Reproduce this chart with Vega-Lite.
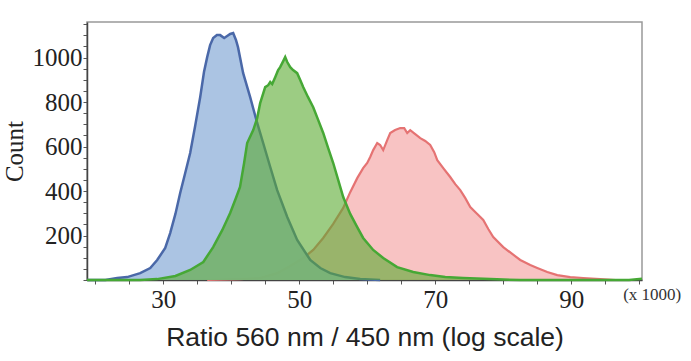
{
  "$schema": "https://vega.github.io/schema/vega-lite/v6.json",
  "width": 555,
  "height": 258,
  "autosize": "none",
  "padding": {"left": 87, "top": 22, "right": 49, "bottom": 81},
  "background": "white",
  "config": {
    "view": {"stroke": "#999999", "strokeWidth": 1.5},
    "axis": {"grid": false}
  },
  "datasets": {
    "blue": [
      {"ratio": 18.8, "count": 0}, {"ratio": 21.5, "count": 0}, {"ratio": 23.24, "count": 9}, {"ratio": 24.7, "count": 13},
      {"ratio": 26.62, "count": 31}, {"ratio": 28.1, "count": 54}, {"ratio": 29.12, "count": 90}, {"ratio": 30.3, "count": 144},
      {"ratio": 31.03, "count": 211}, {"ratio": 31.8, "count": 297}, {"ratio": 32.5, "count": 391}, {"ratio": 33.24, "count": 481},
      {"ratio": 33.97, "count": 571}, {"ratio": 34.7, "count": 692}, {"ratio": 35.44, "count": 822}, {"ratio": 36.0, "count": 935},
      {"ratio": 36.47, "count": 1002}, {"ratio": 36.9, "count": 1056}, {"ratio": 37.35, "count": 1088}, {"ratio": 37.9, "count": 1101},
      {"ratio": 38.38, "count": 1101}, {"ratio": 38.97, "count": 1088}, {"ratio": 39.41, "count": 1097}, {"ratio": 39.85, "count": 1106},
      {"ratio": 40.29, "count": 1110}, {"ratio": 40.7, "count": 1079}, {"ratio": 41.0, "count": 1047}, {"ratio": 41.76, "count": 930},
      {"ratio": 42.79, "count": 822}, {"ratio": 43.82, "count": 706}, {"ratio": 44.7, "count": 616}, {"ratio": 45.74, "count": 508},
      {"ratio": 46.76, "count": 404}, {"ratio": 48.24, "count": 283}, {"ratio": 49.7, "count": 180}, {"ratio": 51.62, "count": 90},
      {"ratio": 53.1, "count": 54}, {"ratio": 54.56, "count": 31}, {"ratio": 56.76, "count": 13}, {"ratio": 58.97, "count": 4},
      {"ratio": 61.9, "count": 0}
    ],
    "green": [
      {"ratio": 18.8, "count": 0}, {"ratio": 26.6, "count": 0}, {"ratio": 29.1, "count": 4}, {"ratio": 31.8, "count": 18},
      {"ratio": 33.97, "count": 45}, {"ratio": 35.9, "count": 81}, {"ratio": 37.35, "count": 148}, {"ratio": 38.7, "count": 225},
      {"ratio": 39.85, "count": 301}, {"ratio": 40.7, "count": 369}, {"ratio": 41.3, "count": 418}, {"ratio": 41.9, "count": 526},
      {"ratio": 42.35, "count": 616}, {"ratio": 43.24, "count": 674}, {"ratio": 43.82, "count": 728}, {"ratio": 44.26, "count": 795},
      {"ratio": 45.0, "count": 867}, {"ratio": 45.44, "count": 876}, {"ratio": 45.74, "count": 890}, {"ratio": 46.03, "count": 881},
      {"ratio": 46.47, "count": 912}, {"ratio": 46.9, "count": 944}, {"ratio": 47.2, "count": 957}, {"ratio": 47.65, "count": 984},
      {"ratio": 47.94, "count": 1002}, {"ratio": 48.24, "count": 980}, {"ratio": 48.68, "count": 957}, {"ratio": 49.1, "count": 944},
      {"ratio": 49.7, "count": 930}, {"ratio": 50.15, "count": 899}, {"ratio": 50.6, "count": 867}, {"ratio": 51.3, "count": 822},
      {"ratio": 52.06, "count": 777}, {"ratio": 52.8, "count": 719}, {"ratio": 53.53, "count": 661}, {"ratio": 54.26, "count": 593},
      {"ratio": 55.0, "count": 526}, {"ratio": 55.74, "count": 449}, {"ratio": 56.47, "count": 373}, {"ratio": 57.5, "count": 297},
      {"ratio": 58.53, "count": 238}, {"ratio": 59.4, "count": 189}, {"ratio": 60.88, "count": 135}, {"ratio": 62.35, "count": 99},
      {"ratio": 64.4, "count": 58}, {"ratio": 66.76, "count": 36}, {"ratio": 69.26, "count": 22}, {"ratio": 71.47, "count": 13},
      {"ratio": 74.1, "count": 9}, {"ratio": 78.1, "count": 4}, {"ratio": 82.5, "count": 0}, {"ratio": 98.5, "count": 0},
      {"ratio": 100.4, "count": 6}
    ],
    "red": [
      {"ratio": 36.47, "count": 0}, {"ratio": 41.3, "count": 4}, {"ratio": 44.26, "count": 9}, {"ratio": 46.76, "count": 31},
      {"ratio": 48.68, "count": 63}, {"ratio": 50.6, "count": 99}, {"ratio": 52.06, "count": 135}, {"ratio": 53.53, "count": 189},
      {"ratio": 55.0, "count": 252}, {"ratio": 56.47, "count": 324}, {"ratio": 57.5, "count": 395}, {"ratio": 58.53, "count": 458},
      {"ratio": 59.4, "count": 503}, {"ratio": 60.0, "count": 526}, {"ratio": 60.44, "count": 553}, {"ratio": 60.88, "count": 584},
      {"ratio": 61.47, "count": 616}, {"ratio": 61.9, "count": 607}, {"ratio": 62.35, "count": 584}, {"ratio": 62.94, "count": 629},
      {"ratio": 63.38, "count": 661}, {"ratio": 64.1, "count": 674}, {"ratio": 64.85, "count": 683}, {"ratio": 65.44, "count": 683},
      {"ratio": 65.88, "count": 661}, {"ratio": 66.32, "count": 674}, {"ratio": 67.06, "count": 656}, {"ratio": 67.8, "count": 638},
      {"ratio": 68.53, "count": 625}, {"ratio": 69.26, "count": 607}, {"ratio": 69.85, "count": 575}, {"ratio": 70.3, "count": 539},
      {"ratio": 71.18, "count": 503}, {"ratio": 72.2, "count": 463}, {"ratio": 72.94, "count": 431}, {"ratio": 73.68, "count": 404},
      {"ratio": 74.4, "count": 369}, {"ratio": 75.15, "count": 328}, {"ratio": 76.18, "count": 297}, {"ratio": 77.06, "count": 270},
      {"ratio": 77.8, "count": 229}, {"ratio": 78.53, "count": 193}, {"ratio": 80.0, "count": 148}, {"ratio": 81.32, "count": 117},
      {"ratio": 82.5, "count": 90}, {"ratio": 83.97, "count": 67}, {"ratio": 85.0, "count": 54}, {"ratio": 86.47, "count": 36},
      {"ratio": 87.94, "count": 22}, {"ratio": 89.85, "count": 13}, {"ratio": 91.76, "count": 9}, {"ratio": 94.26, "count": 4},
      {"ratio": 96.5, "count": 0}
    ],
    "note": [{"label": "(x 1000)", "ratio": 101.9, "count": -67}]
  },
  "encoding": {
    "x": {
      "field": "ratio", "type": "quantitative",
      "scale": {"domain": [18.8, 100.4], "nice": false, "zero": false},
      "axis": {
        "title": "Ratio 560 nm / 450 nm (log scale)",
        "values": [20, 25, 30, 35, 40, 45, 50, 55, 60, 65, 70, 75, 80, 85, 90, 95, 100],
        "labelExpr": "datum.value == 30 || datum.value == 50 || datum.value == 70 || datum.value == 90 ? datum.label : ''",
        "labelFont": "Liberation Serif", "labelFontSize": 25, "labelColor": "#222222", "labelPadding": 3,
        "labelOverlap": false,
        "tickSize": 4, "tickColor": "#555555", "domainColor": "#444444", "domainWidth": 1.5,
        "titleFont": "Liberation Sans", "titleFontSize": 26.5, "titleFontWeight": "normal", "titleColor": "#222222",
        "titlePadding": 12
      }
    },
    "y": {
      "field": "count", "type": "quantitative",
      "scale": {"domain": [0, 1160], "nice": false},
      "axis": {
        "title": "Count",
        "values": [0, 50, 100, 150, 200, 250, 300, 350, 400, 450, 500, 550, 600, 650, 700, 750, 800, 850, 900, 950, 1000, 1050, 1100, 1150],
        "labelExpr": "datum.value > 0 && datum.value % 200 == 0 ? datum.label : ''",
        "format": "d",
        "labelFont": "Liberation Serif", "labelFontSize": 25, "labelColor": "#222222", "labelPadding": 1,
        "labelOverlap": false,
        "tickSize": 4, "tickColor": "#555555", "domainColor": "#444444", "domainWidth": 1.5,
        "titleFont": "Liberation Serif", "titleFontSize": 25, "titleFontWeight": "normal", "titleColor": "#222222",
        "titlePadding": 5
      }
    }
  },
  "layer": [
    {"data": {"name": "red"}, "mark": {"type": "area", "fill": "#f7b9b9", "fillOpacity": 0.85}},
    {"data": {"name": "red"}, "mark": {"type": "line", "stroke": "#e57373", "strokeWidth": 2.2}},
    {"data": {"name": "blue"}, "mark": {"type": "area", "fill": "#a6c1e2", "fillOpacity": 0.95}},
    {"data": {"name": "blue"}, "mark": {"type": "line", "stroke": "#4a68a8", "strokeWidth": 2.5}},
    {"data": {"name": "green"}, "mark": {"type": "area", "fill": "#5aaa30", "fillOpacity": 0.6}},
    {"data": {"name": "green"}, "mark": {"type": "line", "stroke": "#46a835", "strokeWidth": 2.5}},
    {
      "data": {"name": "note"},
      "mark": {"type": "text", "font": "Liberation Serif", "fontSize": 17, "color": "#333333", "align": "center", "baseline": "middle", "clip": false},
      "encoding": {"text": {"field": "label"}}
    }
  ]
}
